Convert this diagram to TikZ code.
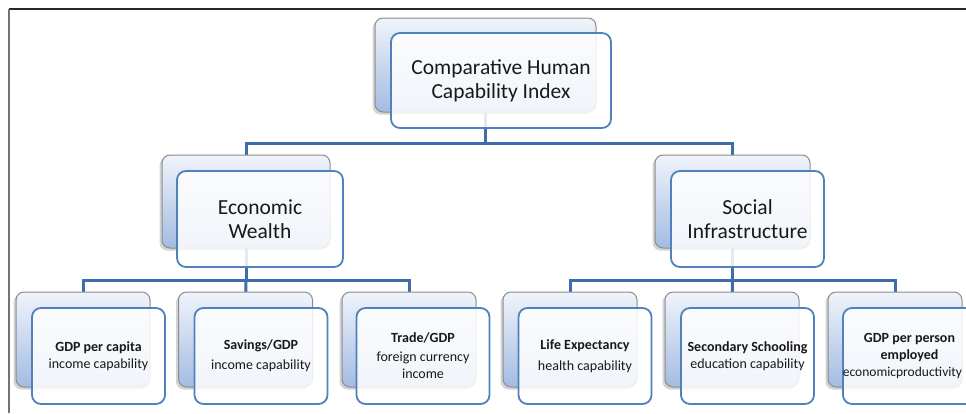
\documentclass[tikz,border=0pt]{standalone}
\usepackage{fontspec}
\setmainfont{Carlito}
\usetikzlibrary{shadows}
\definecolor{conn}{RGB}{62,108,172}
\definecolor{frontline}{RGB}{79,129,189}
\definecolor{backtop}{RGB}{240,244,251}
\definecolor{backbot}{RGB}{163,187,226}
\definecolor{backline}{RGB}{140,140,140}
\tikzset{
  backbox/.style={draw=backline, line width=1pt, rounded corners=8pt,
    top color=backtop, bottom color=backbot,
    drop shadow={shadow xshift=-2.5pt, shadow yshift=-2.5pt, opacity=0.35},
    inner sep=0pt},
  frontbox/.style={draw=frontline, line width=1.8pt, rounded corners=9pt,
    fill=white, fill opacity=0.85, text opacity=1, inner sep=0pt,
    align=center, text=black!90},
  bigtxt/.style={font=\fontsize{21.5}{24}\selectfont},
  smalltxt/.style={font=\fontsize{14}{17}\selectfont},
  link/.style={draw=conn, line width=3pt},
  framel/.style={line width=1.4pt}
}
\begin{document}
\begin{tikzpicture}[x=1pt,y=-1pt]
\useasboundingbox (0,0) rectangle (966,413);
\clip (0,0) rectangle (966,413);
% frame
\coordinate (fa) at (9,9);
\coordinate (fb) at (966,9);
\coordinate (fc) at (9,413);
\draw[framel, black!85] (fa) -- (fb);
\draw[framel, black!55] (fa) -- (fc);

% connectors (drawn first, seen through the front boxes)
\draw[link] (485.5,65) |- (246,143) -- (246,201.5);
\draw[link] (485.5,143) -| (732.5,201.5);
\draw[link] (246,201.5) |- (83,280) -- (83,339.5);
\draw[link] (246,280) -- (245.5,339.5);
\draw[link] (246,280) -| (409,339.5);
\draw[link] (732.5,201.5) |- (570,280) -- (570,339.5);
\draw[link] (732.5,280) -- (732,339.5);
\draw[link] (732.5,280) -| (895,339.5);

% top
\node[backbox, minimum width=221, minimum height=94] (tb) at (485.5,65) {};
\node[frontbox, bigtxt, minimum width=220, minimum height=95] (tf) at (501,80.5)
  {Comparative Human\\Capability Index};
% level 2
\node[backbox, minimum width=168, minimum height=93] (eb) at (246,201.5) {};
\node[frontbox, bigtxt, minimum width=166, minimum height=96] (ef) at (260,219)
  {Economic\\Wealth};
\node[backbox, minimum width=155, minimum height=93] (sb) at (732.5,201.5) {};
\node[frontbox, bigtxt, minimum width=153, minimum height=96] (sf) at (747.5,219)
  {Social\\Infrastructure};
% level 3
\foreach \bx/\nm in {83/a, 245.5/b, 409/c, 570/d, 732/e, 895/f}{
  \node[backbox, minimum width=134, minimum height=95] (\nm b) at (\bx,339.5) {};
}
\node[frontbox, smalltxt, minimum width=133, minimum height=96] (af) at (98.5,356)
  {\textbf{GDP per capita}\\income capability};
\node[frontbox, smalltxt, minimum width=133, minimum height=96] (bf) at (261,356)
  {\textbf{Savings/GDP}\\[3pt]income capability};
\node[frontbox, smalltxt, minimum width=133, minimum height=96] (cf) at (423,356)
  {\textbf{Trade/GDP}\\[2pt]foreign currency\\income};
\node[frontbox, smalltxt, minimum width=133, minimum height=96] (df) at (585,356)
  {\textbf{Life Expectancy}\\[4pt]health capability};
\node[frontbox, smalltxt, minimum width=133, minimum height=96] (ef2) at (747.5,356)
  {\textbf{Secondary Schooling}\\education capability};
\node[frontbox, smalltxt, minimum width=133, minimum height=96] (ff) at (909.5,356)
  {\textbf{GDP per person}\\\textbf{employed}\\\hspace*{-14pt}{\fontsize{13.5}{17}\selectfont economicproductivity}};
\end{tikzpicture}
\end{document}
